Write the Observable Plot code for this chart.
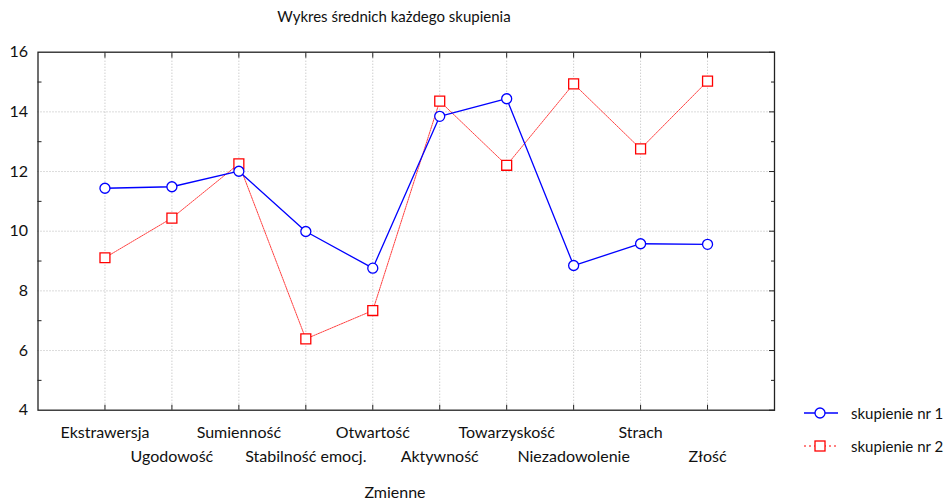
<!DOCTYPE html>
<html>
<head>
<meta charset="utf-8">
<script src="https://cdn.jsdelivr.net/npm/d3@7"></script>
<script src="https://cdn.jsdelivr.net/npm/@observablehq/plot@0.6"></script>
<style>
  body { margin: 0; background: #fff; }
  #wrap { position: relative; width: 949px; height: 500px; font-family: Lato, "Open Sans", sans-serif; color: #111; }
  #title { position: absolute; left: 0; width: 788px; top: 7px; text-align: center; font-size: 15px; }
  #xlabel { position: absolute; left: 0; width: 790px; top: 482px; text-align: center; font-size: 16px; }
  .leg { position: absolute; left: 803px; font-size: 15px; display: flex; align-items: center; white-space: nowrap; }
  .leg svg { margin-right: 12px; }
</style>
</head>
<body>
<div id="wrap">
  <div id="chart"></div>
  <div id="title">Wykres średnich każdego skupienia</div>
  <div id="xlabel">Zmienne</div>
  <div class="leg" style="top:402px">
    <svg width="36" height="22"><line x1="1" y1="11" x2="35" y2="11" stroke="#0000ff" stroke-width="1.3"/><circle cx="17" cy="11" r="5" fill="white" stroke="#0000ff" stroke-width="1.3"/></svg>
    <span>skupienie nr 1</span>
  </div>
  <div class="leg" style="top:435px">
    <svg width="36" height="22"><line x1="1" y1="11" x2="35" y2="11" stroke="#ff0000" stroke-width="1" stroke-dasharray="2,3"/><rect x="12" y="6" width="10" height="10" fill="white" stroke="#ff0000" stroke-width="1.3"/></svg>
    <span>skupienie nr 2</span>
  </div>
</div>
<script>
const categories = ["Ekstrawersja", "Ugodowość", "Sumienność", "Stabilność emocj.", "Otwartość", "Aktywność", "Towarzyskość", "Niezadowolenie", "Strach", "Złość"];
const cluster1 = [11.44, 11.49, 12.01, 9.99, 8.76, 13.85, 14.44, 8.85, 9.58, 9.56];
const cluster2 = [9.11, 10.44, 12.26, 6.39, 7.34, 14.36, 12.21, 14.94, 12.76, 15.03];
const yTicks = [4, 6, 8, 10, 12, 14, 16];
const yMinorTicks = [5, 7, 9, 11, 13, 15];

const d1 = categories.map((c, i) => ({cat: c, v: cluster1[i]}));
const d2 = categories.map((c, i) => ({cat: c, v: cluster2[i]}));
const rowA = categories.filter((c, i) => i % 2 === 0);
const rowB = categories.filter((c, i) => i % 2 === 1);
const font = "Lato, 'Open Sans', sans-serif";
const gridStyle = {stroke: "#b8b8b8", strokeOpacity: 1, strokeDasharray: "1,2"};

const chart = Plot.plot({
  width: 949,
  height: 500,
  marginLeft: 37.5,
  marginRight: 175,
  marginTop: 51.7,
  marginBottom: 90.3,
  style: {fontFamily: font, fontSize: "16px", color: "#111", background: "white"},
  x: {type: "point", domain: categories, padding: 1, round: false},
  y: {domain: [4, 16]},
  marks: [
    Plot.gridX(categories, gridStyle),
    Plot.gridY(yTicks.slice(1, -1), gridStyle),
    Plot.axisY(yTicks, {anchor: "left", tickSize: 0, tickPadding: 10, fontSize: 16, label: null}),
    Plot.axisY(yMinorTicks, {anchor: "left", tickSize: -4, text: null, label: null, stroke: "#222"}),
    Plot.axisY(yTicks, {anchor: "right", tickSize: -6, text: null, label: null, stroke: "#222"}),
    Plot.axisY(yMinorTicks, {anchor: "right", tickSize: -4, text: null, label: null, stroke: "#222"}),
    Plot.axisX(categories, {anchor: "top", tickSize: -5, text: null, label: null, stroke: "#222"}),
    Plot.axisX(categories, {anchor: "bottom", tickSize: -5, text: null, label: null, stroke: "#222"}),
    Plot.axisX(rowA, {anchor: "bottom", tickSize: 0, tickPadding: 16, fontSize: 16, label: null}),
    Plot.axisX(rowB, {anchor: "bottom", tickSize: 0, tickPadding: 40, fontSize: 16, label: null}),
    Plot.frame({stroke: "#222", strokeWidth: 1.3}),
    Plot.line(d2, {x: "cat", y: "v", stroke: "#ff2020", strokeOpacity: 0.85, strokeWidth: 1, strokeDasharray: "1.5,1"}),
    Plot.line(d1, {x: "cat", y: "v", stroke: "#0000ff", strokeWidth: 1.3}),
    Plot.dot(d2, {x: "cat", y: "v", symbol: "square", r: 5.6, stroke: "#ff0000", fill: "white", strokeWidth: 1.3}),
    Plot.dot(d1, {x: "cat", y: "v", symbol: "circle", r: 5, stroke: "#0000ff", fill: "white", strokeWidth: 1.3})
  ]
});
document.getElementById("chart").appendChild(chart);
</script>
</body>
</html>
